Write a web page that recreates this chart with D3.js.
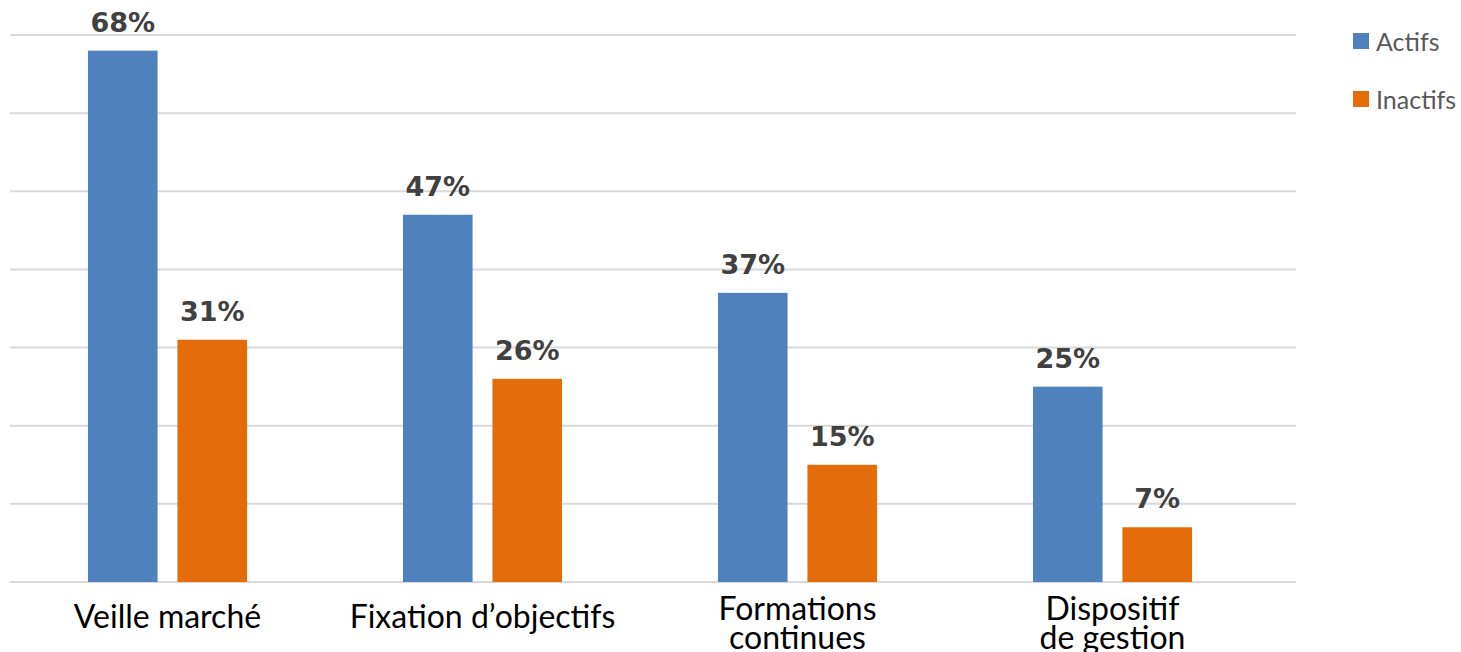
<!DOCTYPE html>
<html>
<head>
<meta charset="utf-8">
<script src="https://cdn.jsdelivr.net/npm/d3@7"></script>
<style>
  html, body { margin: 0; padding: 0; background: #fff; }
  svg { display: block; }
</style>
</head>
<body>
<div id="chart"></div>
<script>
// categories + series
const categories = [
  ["Veille marché"],
  ["Fixation d’objectifs"],
  ["Formations", "continues"],
  ["Dispositif", "de gestion"]
];
const seriesNames = ["Actifs", "Inactifs"];
const actifs = [68, 47, 37, 25];
const inactifs = [31, 26, 15, 7];
const yTicks = [0, 10, 20, 30, 40, 50, 60, 70];

const W = 1461, H = 652;
const colors = { Actifs: "#4f81bd", Inactifs: "#e46c0a" };

const rows = categories.map((c, i) => ({
  key: i,
  lines: c,
  values: [
    { name: "Actifs", v: actifs[i] },
    { name: "Inactifs", v: inactifs[i] }
  ]
}));

const svg = d3.select("#chart").append("svg")
  .attr("width", W)
  .attr("height", H);

// scales
const x0 = d3.scaleBand()
  .domain(rows.map(d => d.key))
  .range([10, 1270])
  .paddingInner(0.495)
  .paddingOuter(0.2475);

const x1 = d3.scaleBand()
  .domain(seriesNames)
  .range([0, x0.bandwidth()])
  .paddingInner(0.222);

const y = d3.scaleLinear()
  .domain([0, 70])
  .range([582, 35]);

// gridlines
svg.append("g").attr("class", "grid")
  .selectAll("line")
  .data(yTicks)
  .join("line")
  .attr("x1", 10)
  .attr("x2", 1296)
  .attr("y1", d => y(d))
  .attr("y2", d => y(d))
  .attr("stroke", "#d9d9d9")
  .attr("stroke-width", 2);

// bars
const groups = svg.append("g").attr("class", "bars")
  .selectAll("g")
  .data(rows)
  .join("g")
  .attr("transform", d => `translate(${x0(d.key)},0)`);

groups.selectAll("rect")
  .data(d => d.values)
  .join("rect")
  .attr("x", d => x1(d.name))
  .attr("width", x1.bandwidth())
  .attr("y", d => y(d.v))
  .attr("height", d => y(0) - y(d.v))
  .attr("fill", d => colors[d.name]);

// value labels
groups.selectAll("text.val")
  .data(d => d.values)
  .join("text")
  .attr("class", "val")
  .attr("x", d => x1(d.name) + x1.bandwidth() / 2)
  .attr("y", d => y(d.v) - 19)
  .attr("text-anchor", "middle")
  .attr("font-family", "DejaVu Sans")
  .attr("font-weight", "bold")
  .attr("font-size", 27)
  .attr("fill", "#404040")
  .text(d => d.v + "%");

// category labels
const catLabels = svg.append("g").attr("class", "cats")
  .selectAll("text")
  .data(rows)
  .join("text")
  .attr("x", d => x0(d.key) + x0.bandwidth() / 2)
  .attr("y", d => d.lines.length === 1 ? 628 : 620)
  .attr("text-anchor", "middle")
  .attr("font-family", "Lato")
  .attr("font-size", 32)
  .attr("fill", "#000");

catLabels.selectAll("tspan")
  .data(d => d.lines)
  .join("tspan")
  .attr("x", function () { return d3.select(this.parentNode).attr("x"); })
  .attr("dy", (d, i) => i === 0 ? 0 : 29)
  .text(d => d);

// legend
const legend = svg.append("g").attr("class", "legend")
  .selectAll("g")
  .data(seriesNames)
  .join("g")
  .attr("transform", (d, i) => `translate(1353,${33 + i * 58})`);

legend.append("rect")
  .attr("width", 16)
  .attr("height", 16)
  .attr("fill", d => colors[d]);

legend.append("text")
  .attr("x", 23)
  .attr("y", 18)
  .attr("font-family", "Lato")
  .attr("font-size", 25)
  .attr("fill", "#595959")
  .text(d => d);
</script>
</body>
</html>
